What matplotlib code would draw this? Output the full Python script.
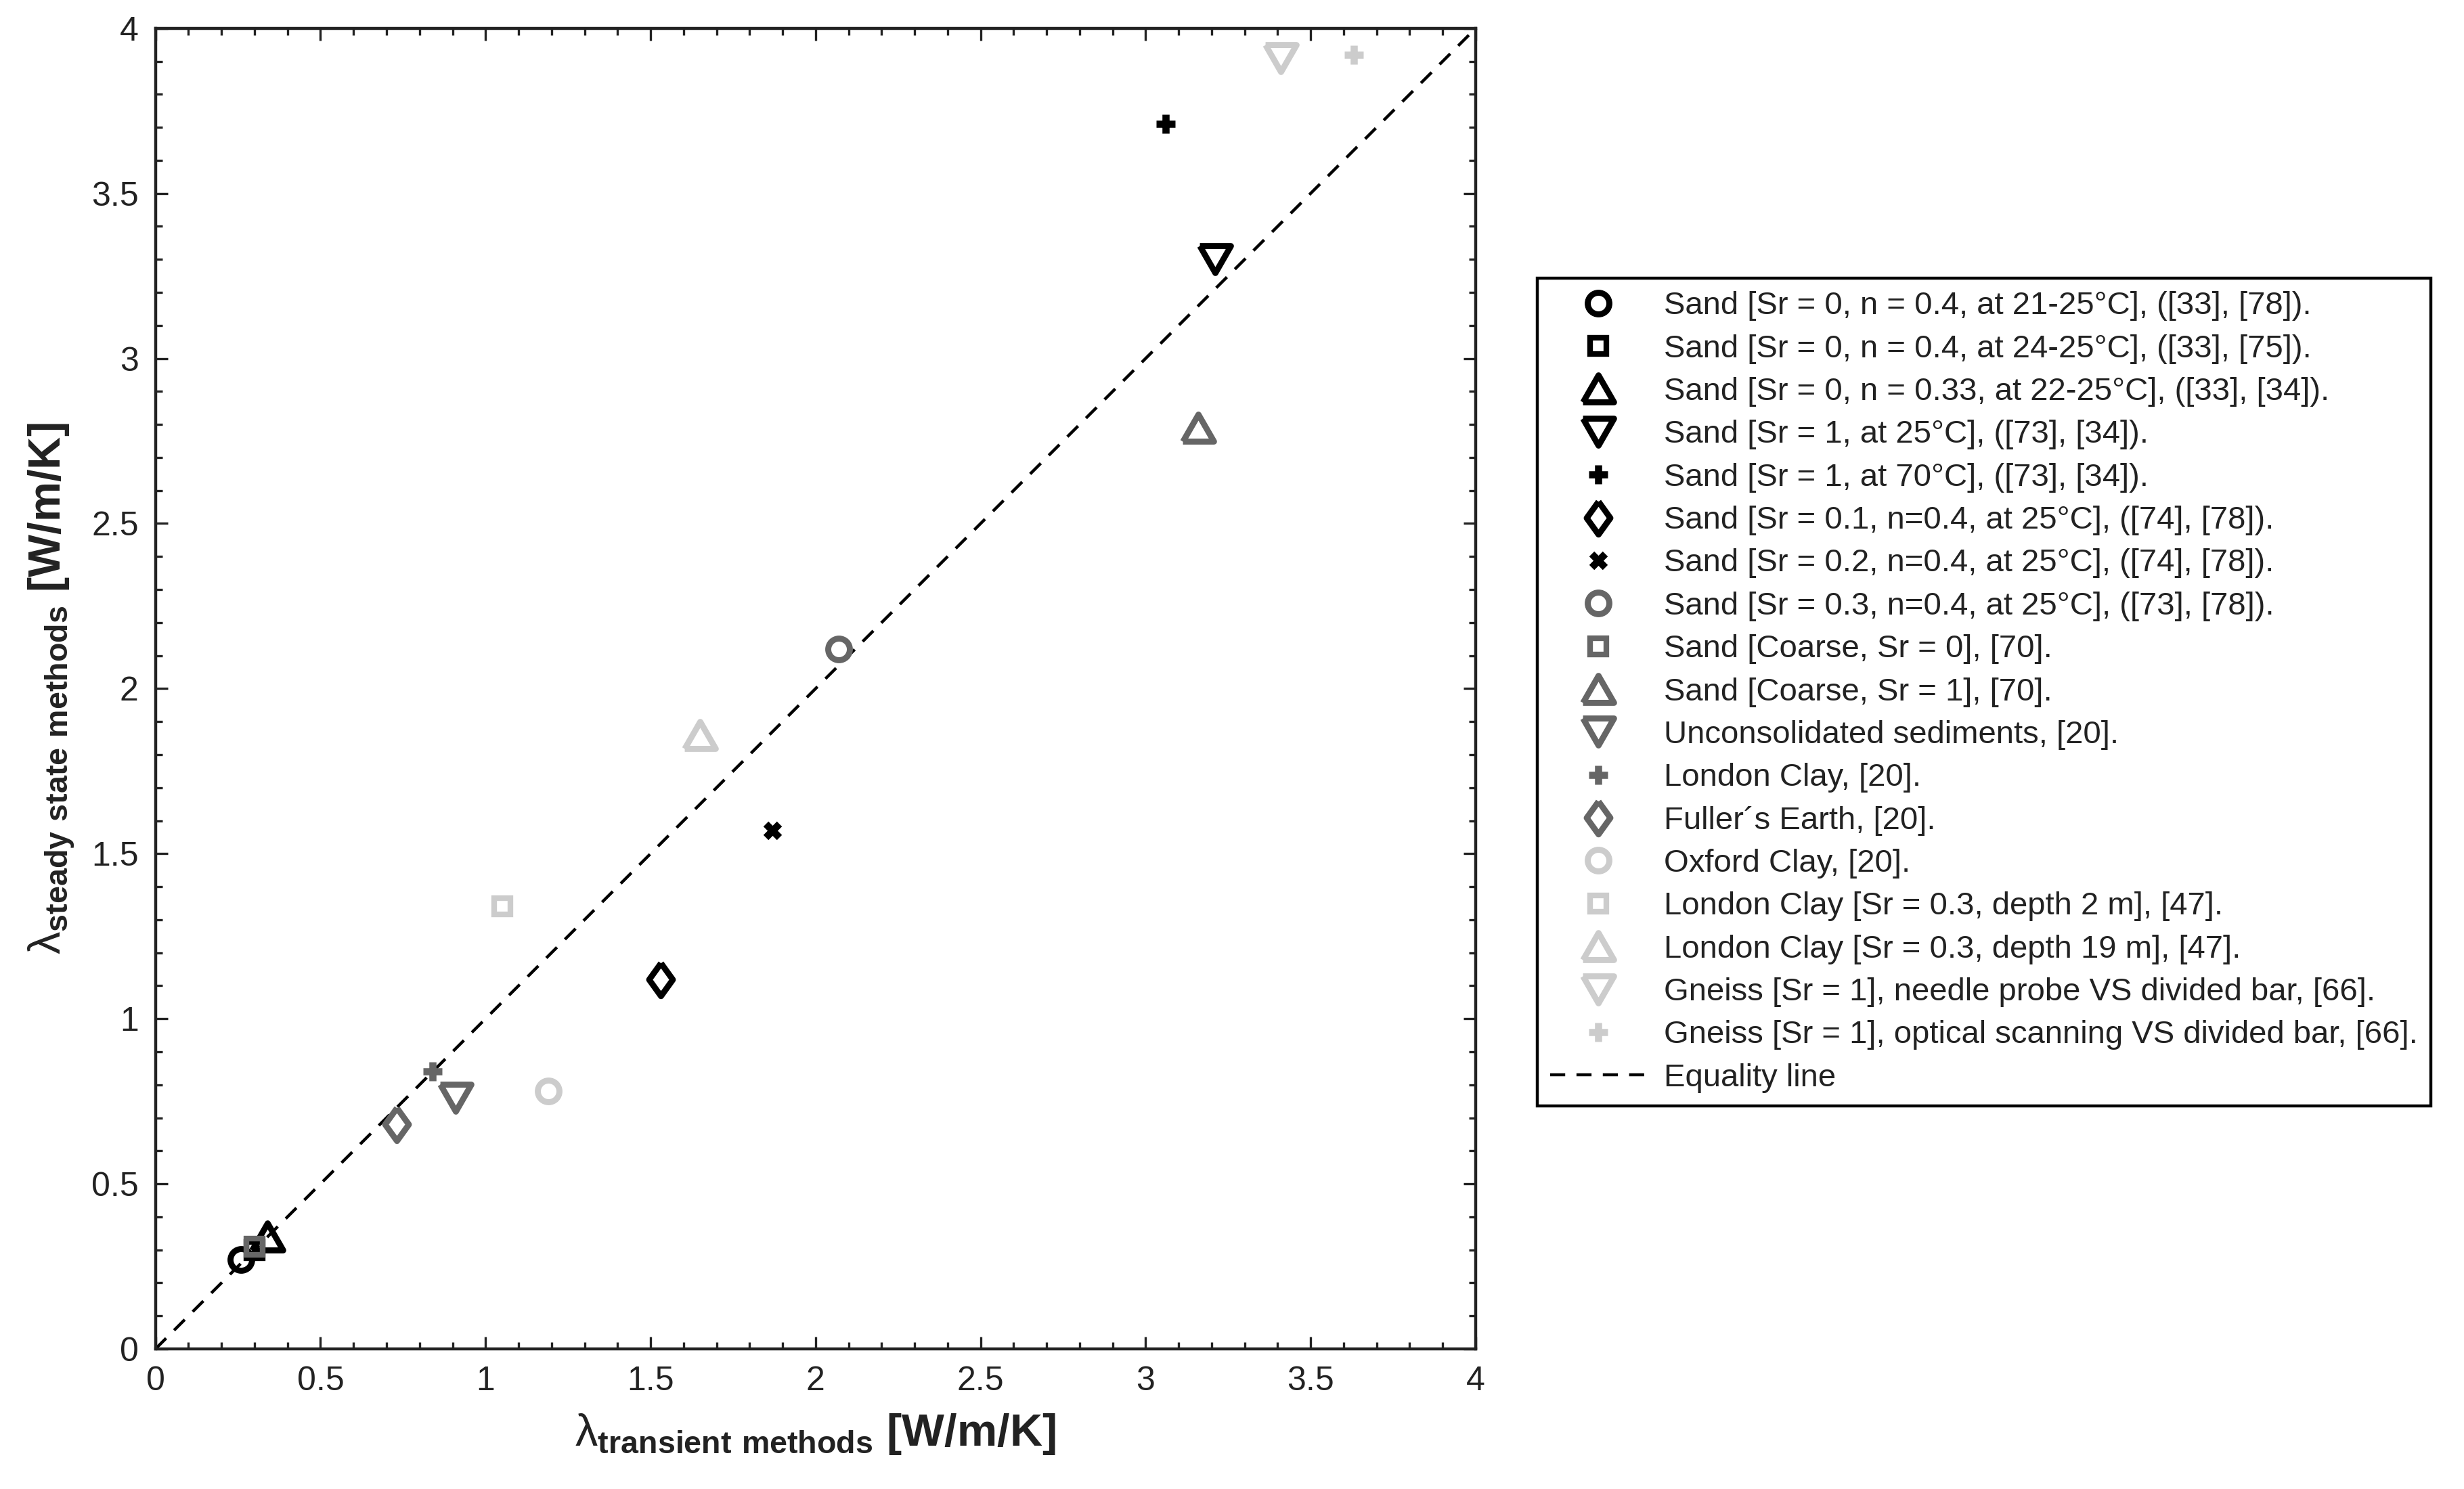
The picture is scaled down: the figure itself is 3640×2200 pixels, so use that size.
import numpy as np
import matplotlib
matplotlib.use("Agg")
import matplotlib.pyplot as plt

plt.rcParams['font.family'] = ['Liberation Sans', 'DejaVu Sans']
plt.rcParams['mathtext.fontset'] = 'custom'
plt.rcParams['mathtext.rm'] = 'Liberation Sans'
plt.rcParams['mathtext.bf'] = 'Liberation Sans:bold'

# data
labels = [
    "Sand [Sr = 0, n = 0.4, at 21-25°C], ([33], [78]).",
    "Sand [Sr = 0, n = 0.4, at 24-25°C], ([33], [75]).",
    "Sand [Sr = 0, n = 0.33, at 22-25°C], ([33], [34]).",
    "Sand [Sr = 1, at 25°C], ([73], [34]).",
    "Sand [Sr = 1, at 70°C], ([73], [34]).",
    "Sand [Sr = 0.1, n=0.4, at 25°C], ([74], [78]).",
    "Sand [Sr = 0.2, n=0.4, at 25°C], ([74], [78]).",
    "Sand [Sr = 0.3, n=0.4, at 25°C], ([73], [78]).",
    "Sand [Coarse, Sr = 0], [70].",
    "Sand [Coarse, Sr = 1], [70].",
    "Unconsolidated sediments, [20].",
    "London Clay, [20].",
    "Fuller´s Earth, [20].",
    "Oxford Clay, [20].",
    "London Clay [Sr = 0.3, depth 2 m], [47].",
    "London Clay [Sr = 0.3, depth 19 m], [47].",
    "Gneiss [Sr = 1], needle probe VS divided bar, [66].",
    "Gneiss [Sr = 1], optical scanning VS divided bar, [66].",
]
x_transient = [0.26, 0.30, 0.34, 3.21, 3.06, 1.53, 1.87, 2.07, 0.30, 3.16,
               0.91, 0.84, 0.73, 1.19, 1.05, 1.65, 3.41, 3.63]
y_steady = [0.27, 0.30, 0.34, 3.30, 3.71, 1.12, 1.57, 2.12, 0.31, 2.79,
            0.76, 0.84, 0.68, 0.78, 1.34, 1.86, 3.91, 3.92]
equality = [0, 4]
tick_vals = [0, 0.5, 1, 1.5, 2, 2.5, 3, 3.5, 4]
tick_text = ['0', '0.5', '1', '1.5', '2', '2.5', '3', '3.5', '4']

# marker styles (matlab-like open markers)
up = [(-1, -0.87), (1, -0.87), (0, 0.87), (-1, -0.87)]
down = [(-1, 0.87), (1, 0.87), (0, -0.87), (-1, 0.87)]
diam = [(0, 1), (0.72, 0), (0, -1), (-0.72, 0), (0, 1)]
shape = {'o': ('o', 11.5, 3.2), 's': ('s', 8.5, 3.0), '^': (up, 16.5, 3.2),
         'v': (down, 16.5, 3.2), '+': ('+', 10, 3.8), 'd': (diam, 17.5, 3.2),
         'x': ('x', 7.5, 3.8)}
kinds = ['o', 's', '^', 'v', '+', 'd', 'x', 'o', 's', '^', 'v', '+', 'd', 'o', 's', '^', 'v', '+']
black, dark, light = '#000000', '#666666', '#cccccc'
colors = [black] * 7 + [dark] * 6 + [light] * 5

fig = plt.figure(figsize=(18.2, 11), dpi=200)
ax = fig.add_axes([0.0631, 0.0941, 0.5358, 0.8869])

handles = []
for i, lab in enumerate(labels):
    m, ms, mew = shape[kinds[i]]
    h, = ax.plot(x_transient[i], y_steady[i], linestyle='none', marker=m,
                 markersize=ms, markeredgewidth=mew, markerfacecolor='none',
                 markeredgecolor=colors[i], label=lab, zorder=3 + i * 0.01)
    handles.append(h)

eq, = ax.plot(equality, equality, color='k', linewidth=1.6,
              linestyle=(0, (5, 3.75)), label='Equality line', zorder=2)
handles.append(eq)

ax.set_xlim(0, 4)
ax.set_ylim(0, 4)
ax.set_xticks(tick_vals)
ax.set_yticks(tick_vals)
ax.set_xticklabels(tick_text)
ax.set_yticklabels(tick_text)
ax.set_xticks(np.arange(0, 4.01, 0.1), minor=True)
ax.set_yticks(np.arange(0, 4.01, 0.1), minor=True)
ax.tick_params(which='both', direction='in', top=True, right=True, width=1.2, colors='#222222')
ax.tick_params(which='major', length=6.5, labelsize=18, pad=9, labelcolor='#222222')
ax.tick_params(which='minor', length=3.6)
for sp in ax.spines.values():
    sp.set_linewidth(1.6)
    sp.set_color('#222222')

ax.set_xlabel(r'$\mathrm{\lambda}_{\mathbf{transient\ methods}}$ [W/m/K]',
              fontsize=24, fontweight='bold', labelpad=8, color='#222222')
ax.set_ylabel(r'$\mathrm{\lambda}_{\mathbf{steady\ state\ methods}}$ [W/m/K]',
              fontsize=24, fontweight='bold', labelpad=8, color='#222222')

leg = fig.legend(handles=handles, loc='upper left', bbox_to_anchor=(0.624, 0.813),
                 fontsize=17, frameon=True, fancybox=False, framealpha=1,
                 edgecolor='black', borderpad=0.4, handlelength=3.0,
                 handletextpad=0.55, labelspacing=0.41, borderaxespad=0,
                 numpoints=1)
leg.get_frame().set_linewidth(1.6)
for t in leg.get_texts():
    t.set_color('#222222')

fig.savefig('out.png', dpi=200, facecolor='white')
